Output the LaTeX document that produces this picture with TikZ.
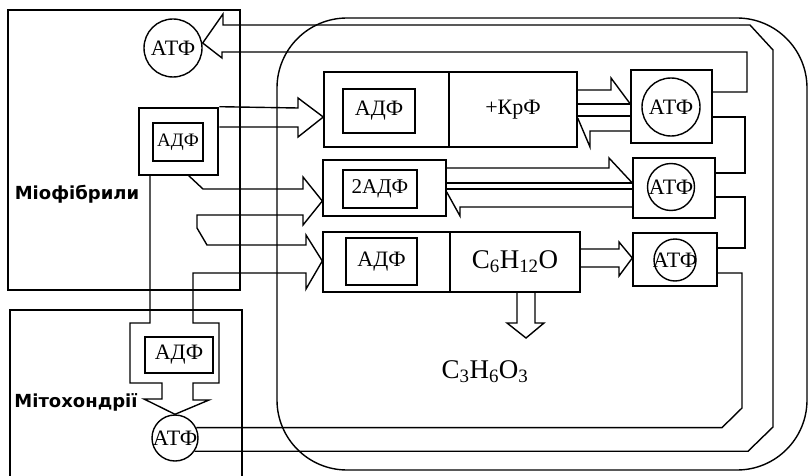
\documentclass[tikz,border=0pt]{standalone}
\usepackage{fontspec}
\setmainfont{Liberation Serif}
\newfontfamily\regionfont{DejaVu Sans}
\begin{document}
\begin{tikzpicture}[x=1pt,y=-1pt,line width=1.4pt,
    every node/.style={font=\fontsize{22}{24}\selectfont},
    frame/.style={draw,inner sep=0pt},
    atf/.style={draw,circle,inner sep=0pt,label={center:АТФ}},
    region/.style={font=\regionfont\bfseries\fontsize{18}{20}\selectfont},
    formula/.style={font=\fontsize{27}{29}\selectfont}]
    \useasboundingbox (0,0) rectangle (808,476);
    \draw (8,10) rectangle (240,290);
    \node[region] (miof) at (77,194) {Міофібрили};
    \draw (10,480) |- (242,310) -- (242,480);
    \node[region] (mito) at (76,402) {Мітохондрії};
    \draw[rounded corners=70pt] (277,18) rectangle (807,470);

    \node[atf,minimum size=58pt] (atfm) at (173,48) {};
    \node[frame,line width=2.6pt,minimum width=79pt,minimum height=67pt] (adfm) at (178.5,141.5) {};
    \node[frame,minimum width=50pt,minimum height=38pt,font=\fontsize{19}{21}\selectfont] (adfma) at (178,142) {АДФ};
    \node[frame,minimum width=68pt,minimum height=36pt] (adfmt) at (179,355) {АДФ};
    \node[atf,minimum size=46pt] (atfmt) at (175,438) {};

    \node[frame,minimum width=125pt,minimum height=75pt] (b1l) at (386.5,109.5) {};
    \node[frame,minimum width=128pt,minimum height=75pt] (b1r) at (513,109.5) {+КрФ};
    \node[frame,minimum width=72pt,minimum height=44pt] (b1a) at (379,111) {АДФ};
    \node[frame,minimum width=123pt,minimum height=56pt] (b2) at (384.5,188) {};
    \node[frame,minimum width=74pt,minimum height=38pt,font=\fontsize{21}{23}\selectfont] (b2a) at (380,189) {2АДФ};
    \node[frame,minimum width=127pt,minimum height=60pt] (b3l) at (386.5,262) {};
    \node[frame,minimum width=130pt,minimum height=60pt,formula] (b3r) at (515,262) {C\textsubscript{6}H\textsubscript{12}O};
    \node[frame,minimum width=71pt,minimum height=47pt] (b3a) at (381.5,261.5) {АДФ};

    \node[frame,minimum width=81pt,minimum height=73pt] (atf1b) at (671.5,106.5) {};
    \node[atf,minimum size=58pt] (atf1) at (671,107) {};
    \node[frame,minimum width=82pt,minimum height=60pt] (atf2b) at (674,188) {};
    \node[atf,minimum size=47pt] (atf2) at (671,187) {};
    \node[frame,minimum width=84pt,minimum height=53pt] (atf3b) at (675,259.5) {};
    \node[atf,minimum size=42pt] (atf3) at (675,260) {};

    \node[formula] (lact) at (485,372) {C\textsubscript{3}H\textsubscript{6}O\textsubscript{3}};

    \draw (atfmt.-34) -- (atfmt.-34 -| 748,0) -- (773,427) -- (773,50) -- (750,25) -- (223,25) -- (223,14)
        -- (atfm.east |- 0,43) -- (222,58) -- (222,52) -- (747,52) -- (747,92) -- (atf1b.east |- 0,92);
    \draw (atfmt.26) -- (atfmt.26 -| 722,0) -- (742,408) -- (742,273) -- (atf3b.east |- 0,273);
    \draw (atf2b.east |- 0,197) -| (745,248) -- (atf3b.east |- 0,248);
    \draw (atf1b.east |- 0,117) -| (745,173) -- (atf2b.east |- 0,173);

    \draw (adfm.east |- 0,127) -- (298,127) -- (298,137) -- (b1l.west |- 0,117) -- (298,98) -- (298,108) -- (adfm.north east);
    \draw (188,175) -- (203,189) -- (303,189) -- (303,177) -- (b2.west |- 0,201) -- (303,225) -- (303,215)
        -- (197,215) -- (197,228) -- (207,245) -- (306,245) -- (306,235) -- (b3l.west |- 0,261) -- (306,289)
        -- (306,273) -- (193,273) -- (193,323) -- (219,323) -- (219,383) -- (193,383) -- (193,400) -- (209,400)
        -- (atfmt.north) -- (144,399) -- (162,399) -- (162,383) -- (130,383) -- (130,323) -- (150,323) -- (150,175);

    \draw (b1r.east |- 0,90) -- (611,90) -- (611,78) -- (atf1b.west |- 0,104);
    \draw (b1r.east |- 0,104) -- (atf1b.west |- 0,104);
    \draw (b1r.east |- 0,116) -- (atf1b.west |- 0,116);
    \draw (atf1b.west |- 0,131) -- (590,131) -- (590,147) -- (b1r.east |- 0,118);

    \draw (b2.east |- 0,168) -- (609,168) -- (609,158) -- (atf2b.west |- 0,183);
    \draw (b2.east |- 0,183) -- (atf2b.west |- 0,183);
    \draw (b2.east |- 0,189) -- (atf2b.west |- 0,189);
    \draw (atf2b.west |- 0,207) -- (460,207) -- (460,216) -- (b2.east |- 0,192);

    \draw (b3r.east |- 0,249) -- (619,249) -- (619,242) -- (atf3b.west |- 0,258) -- (619,276) -- (619,267) -- (b3r.east |- 0,267);
    \draw (b3r.south -| 517,0) -- (517,323) -- (507,323) -- (526,338) -- (544,323) -- (535,323) -- (b3r.south -| 535,0);
\end{tikzpicture}
\end{document}
